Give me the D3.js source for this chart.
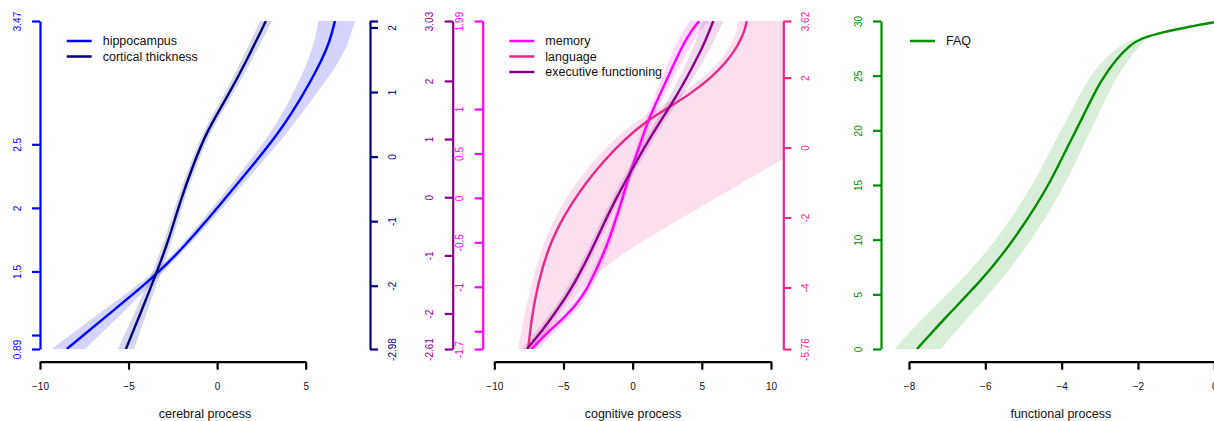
<!DOCTYPE html>
<html>
<head>
<meta charset="utf-8">
<script src="https://cdn.jsdelivr.net/npm/d3@7"></script>
<style>
body { margin: 0; background: #fff; }
svg { font-family: "Liberation Sans", Arial, Helvetica, sans-serif; }
</style>
</head>
<body>
<svg id="chart" width="1214" height="421"></svg>
<script>
// ---- cerebral process ----
var hippoY  = [0.89, 1.15, 1.46, 1.69, 1.90, 2.09, 2.34, 2.60, 2.89, 3.13, 3.31, 3.47];
var hippoX  = [-8.49, -6.24, -3.51, -1.91, -0.59, 0.54, 2.04, 3.54, 4.86, 5.80, 6.37, 6.65];
var hippoLo = [-9.34, -6.90, -3.75, -2.12, -0.85, 0.24, 1.68, 3.10, 4.28, 5.06, 5.52, 5.71];
var hippoHi = [-7.46, -5.52, -3.28, -1.70, -0.33, 0.86, 2.42, 4.02, 5.55, 6.83, 7.45, 7.78];

var ctY  = [-2.98, -2.46, -1.86, -1.32, -0.70, -0.13, 0.39, 0.91, 1.48, 2.1];
var ctX  = [-5.15, -4.37, -3.51, -2.76, -2.10, -1.35, -0.59, 0.54, 1.66, 2.75];
var ctLo = [-5.60, -4.72, -3.75, -2.98, -2.30, -1.55, -0.80, 0.30, 1.38, 2.42];
var ctHi = [-4.70, -4.02, -3.27, -2.54, -1.90, -1.15, -0.38, 0.78, 1.94, 3.10];

var hippoTicks = [0.89, 1, 1.5, 2, 2.5, 3.47];
var hippoTickLabels = ["0.89", "", "1.5", "2", "2.5", "3.47"];
var ctTicks = [-2.98, -2, -1, 0, 1, 2, 2.1];
var ctTickLabels = ["-2.98", "-2", "-1", "0", "1", "2", ""];
var cerebralXTicks = [-10, -5, 0, 5];

// ---- cognitive process ----
var memY  = [-1.70, -1.54, -1.37, -1.21, -1.01, -0.81, -0.59, -0.36, 0.01, 0.28, 0.54, 0.88, 1.19, 1.46, 1.82, 1.99];
var memX  = [-7.30, -6.34, -5.11, -4.10, -3.23, -2.65, -2.00, -1.46, -0.70, -0.20, 0.40, 1.13, 2.05, 2.84, 3.93, 4.80];
var memLo = [-7.75, -6.75, -5.50, -4.45, -3.50, -2.90, -2.22, -1.66, -0.88, -0.38, 0.20, 0.88, 1.70, 2.40, 3.35, 4.15];
var memHi = [-6.80, -5.85, -4.65, -3.70, -2.90, -2.35, -1.75, -1.22, -0.50, 0.00, 0.62, 1.42, 2.42, 3.30, 4.55, 5.50];

var langY  = [-5.76, -4.84, -3.88, -3.02, -2.26, -1.59, -1.01, -0.41, 0.22, 0.80, 1.17, 1.53, 1.97, 2.43, 2.91, 3.36, 3.62];
var langX  = [-7.55, -7.30, -6.83, -6.22, -5.40, -4.39, -3.38, -2.15, -0.63, 1.13, 2.70, 4.14, 5.59, 6.75, 7.62, 8.12, 8.24];
var langLo = [-8.30, -7.85, -7.30, -6.70, -5.95, -5.05, -4.10, -2.90, -1.40, 0.40, 2.00, 3.50, 5.00, 6.25, 7.10, 7.55, 7.60];
var langHi = [-7.00, -5.30, -3.40, -0.80, 2.50, 5.40, 7.90, 10.5, 13.2, 16.0, 18.0, 20.0, 22.0, 24.0, 26.0, 28.0, 29.0];

var execY  = [-2.61, -2.28, -1.99, -1.70, -1.22, -0.56, 0.00, 0.41, 0.93, 1.38, 1.84, 2.16, 2.59, 3.03];
var execX  = [-7.64, -6.49, -5.62, -4.75, -3.59, -2.29, -1.16, -0.20, 1.01, 2.21, 3.42, 4.14, 5.10, 5.83];
var execLo = [-8.00, -6.85, -5.95, -5.05, -3.90, -2.58, -1.45, -0.50, 0.70, 1.85, 2.95, 3.60, 4.45, 5.05];
var execHi = [-7.30, -6.15, -5.30, -4.45, -3.30, -2.00, -0.88, 0.10, 1.32, 2.55, 3.85, 4.65, 5.70, 6.55];

var execTicks = [-2.61, -2, -1, 0, 1, 2, 3.03];
var execTickLabels = ["-2.61", "-2", "-1", "0", "1", "2", "3.03"];
var memTicks = [-1.7, -1.5, -1, -0.5, 0, 0.5, 1, 1.99];
var memTickLabels = ["-1.7", "", "-1", "-0.5", "0", "0.5", "1", "1.99"];
var langTicks = [-5.76, -4, -2, 0, 2, 3.62];
var langTickLabels = ["-5.76", "-4", "-2", "0", "2", "3.62"];
var cognitiveXTicks = [-10, -5, 0, 5, 10];

// ---- functional process ----
var faqY  = [0, 3.1, 6.2, 9.2, 12.3, 15.3, 18.4, 21.4, 24.5, 26.6, 27.8, 28.4, 29.0, 29.6, 29.9, 30];
var faqX  = [-7.79, -6.99, -6.12, -5.42, -4.81, -4.29, -3.86, -3.42, -2.99, -2.55, -2.20, -1.94, -1.33, -0.46, -0.04, 0.4];
var faqLo = [-8.38, -7.57, -6.64, -5.89, -5.25, -4.71, -4.26, -3.80, -3.35, -2.88, -2.45, -2.09, -1.38, -0.46, -0.04, 0.4];
var faqHi = [-7.16, -6.41, -5.60, -4.95, -4.37, -3.87, -3.46, -3.04, -2.63, -2.22, -1.95, -1.79, -1.28, -0.46, -0.04, 0.4];

var faqTicks = [0, 5, 10, 15, 20, 25, 30];
var functionalXTicks = [-8, -6, -4, -2, 0];

var fontFamily = '"Liberation Sans", Arial, Helvetica, sans-serif';
var top_ = 21, bottom_ = 349, xAxisY = 361.7;

var svg = d3.select("#chart");
var defs = svg.append("defs");

function rows(xs, ys, lo, hi) {
	return ys.map(function(v, i) {
		return {y: v, x: xs[i], lo: lo[i], hi: hi[i]};
	});
}

function panel(id, x0, x1) {
	defs.append("clipPath").attr("id", id)
		.append("rect").attr("x", x0).attr("y", top_).attr("width", x1 - x0).attr("height", bottom_ - top_);
	return svg.append("g").attr("clip-path", "url(#" + id + ")");
}

function band(g, x, y, d, color, op) {
	var area = d3.area().curve(d3.curveBasis)
		.y(function(r) { return y(r.y); })
		.x0(function(r) { return x(r.lo); })
		.x1(function(r) { return x(r.hi); });
	g.append("path").datum(d).attr("fill", color).attr("fill-opacity", op).attr("d", area);
}

function curve(g, x, y, d, color) {
	var line = d3.line().curve(d3.curveBasis)
		.x(function(r) { return x(r.x); })
		.y(function(r) { return y(r.y); });
	g.append("path").datum(d).attr("fill", "none").attr("stroke", color)
		.attr("stroke-width", 2.4).attr("d", line);
}

function yAxis(xPos, y, ticks, labels, color, side) {
	var ax = side == "left" ? d3.axisLeft(y) : d3.axisRight(y);
	ax.tickValues(ticks).tickSize(8).tickSizeOuter(0)
		.tickFormat(function(v, i) { return labels[i]; });
	var g = svg.append("g").attr("transform", "translate(" + xPos + ",0)")
		.attr("color", color).call(ax)
		.attr("font-family", fontFamily).attr("font-size", 10);
	g.select(".domain").attr("stroke-width", 2.2);
	g.selectAll(".tick line").attr("stroke-width", 2.2);
	var off = side == "left" ? -23 : 22;
	g.selectAll(".tick text")
		.attr("x", 0).attr("y", off).attr("dy", null)
		.attr("transform", "rotate(-90)")
		.attr("text-anchor", "middle")
		.attr("dominant-baseline", "central");
}

function xAxis(x, ticks, title, cx) {
	var g = svg.append("g").attr("transform", "translate(0," + xAxisY + ")")
		.call(d3.axisBottom(x).tickValues(ticks).tickSize(8).tickSizeOuter(0).tickPadding(13).tickFormat(d3.format("d")))
		.attr("font-family", fontFamily).attr("font-size", 10);
	g.select(".domain").attr("stroke-width", 2.2);
	g.selectAll(".tick line").attr("stroke-width", 2.2);
	g.selectAll(".tick text").attr("fill", "#111");
	svg.append("text").attr("x", cx).attr("y", 418).attr("text-anchor", "middle")
		.attr("font-size", 12.5).attr("fill", "#111").text(title);
}

function legend(x0, items) {
	items.forEach(function(it, i) {
		var yy = 41 + i * 15.5;
		svg.append("line").attr("x1", x0).attr("x2", x0 + 25).attr("y1", yy).attr("y2", yy)
			.attr("stroke", it.color).attr("stroke-width", 2.5);
		svg.append("text").attr("x", x0 + 36).attr("y", yy).attr("dominant-baseline", "central")
			.attr("font-size", 12.5).attr("fill", "#111").text(it.name);
	});
}

// panel 1
var x1 = d3.scaleLinear().domain([-10, 5]).range([40, 305.7]);
var yHippo = d3.scaleLinear().domain([0.89, 3.47]).range([bottom_, top_]);
var yCt = d3.scaleLinear().domain([-2.98, 2.1]).range([bottom_, top_]);
var g1 = panel("clip1", 40, 370);
band(g1, x1, yHippo, rows(hippoX, hippoY, hippoLo, hippoHi), "#0000FF", 0.17);
band(g1, x1, yCt, rows(ctX, ctY, ctLo, ctHi), "#000080", 0.16);
curve(g1, x1, yHippo, rows(hippoX, hippoY, hippoLo, hippoHi), "#0000FF");
curve(g1, x1, yCt, rows(ctX, ctY, ctLo, ctHi), "#000080");
yAxis(40, yHippo, hippoTicks, hippoTickLabels, "#0000FF", "left");
yAxis(370, yCt, ctTicks, ctTickLabels, "#000080", "right");
xAxis(x1, cerebralXTicks, "cerebral process", 205);
legend(66.7, [{name: "hippocampus", color: "#0000FF"}, {name: "cortical thickness", color: "#000080"}]);

// panel 2
var x2 = d3.scaleLinear().domain([-10, 10]).range([494.3, 771]);
var yMem = d3.scaleLinear().domain([-1.7, 1.99]).range([bottom_, top_]);
var yLang = d3.scaleLinear().domain([-5.76, 3.62]).range([bottom_, top_]);
var yExec = d3.scaleLinear().domain([-2.61, 3.03]).range([bottom_, top_]);
var g2 = panel("clip2", 483, 783);
var memRows = rows(memX, memY, memLo, memHi),
	langRows = rows(langX, langY, langLo, langHi),
	execRows = rows(execX, execY, execLo, execHi);
band(g2, x2, yMem, memRows, "#FF00FF", 0.15);
band(g2, x2, yLang, langRows, "#E7298A", 0.15);
band(g2, x2, yExec, execRows, "#8B008B", 0.15);
curve(g2, x2, yMem, memRows, "#FF00FF");
curve(g2, x2, yLang, langRows, "#E7298A");
curve(g2, x2, yExec, execRows, "#8B008B");
yAxis(452.7, yExec, execTicks, execTickLabels, "#8B008B", "left");
yAxis(482.7, yMem, memTicks, memTickLabels, "#FF00FF", "left");
yAxis(783.3, yLang, langTicks, langTickLabels, "#E7298A", "right");
xAxis(x2, cognitiveXTicks, "cognitive process", 633);
legend(509.3, [{name: "memory", color: "#FF00FF"}, {name: "language", color: "#E7298A"},
	{name: "executive functioning", color: "#8B008B"}]);

// panel 3
var x3 = d3.scaleLinear().domain([-8, 0]).range([909, 1214.3]);
var yFaq = d3.scaleLinear().domain([0, 30]).range([bottom_, top_]);
var g3 = panel("clip3", 881, 1240);
var faqRows = rows(faqX, faqY, faqLo, faqHi);
band(g3, x3, yFaq, faqRows, "#008B00", 0.15);
curve(g3, x3, yFaq, faqRows, "#008B00");
yAxis(881, yFaq, faqTicks, faqTicks.map(String), "#008B00", "left");
xAxis(x3, functionalXTicks, "functional process", 1060.8);
legend(910, [{name: "FAQ", color: "#008B00"}]);
</script>
</body>
</html>
